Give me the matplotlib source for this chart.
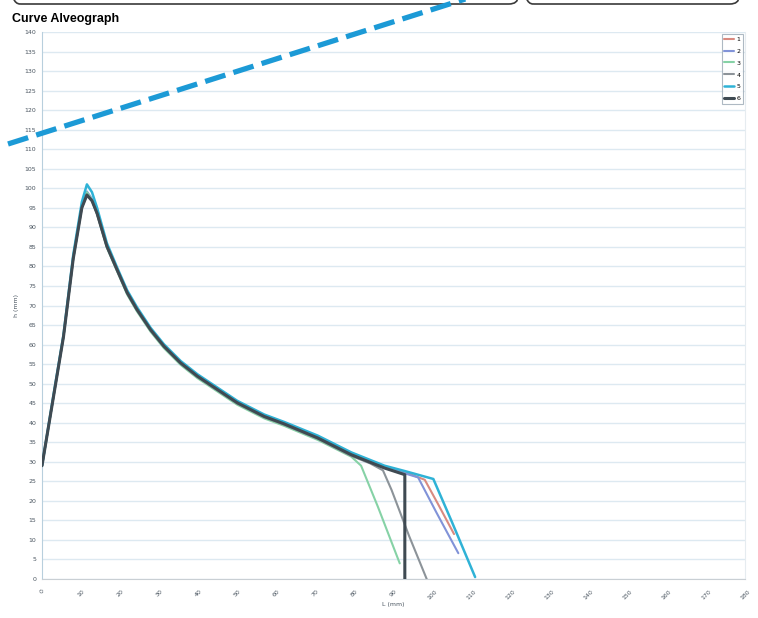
import matplotlib.pyplot as plt
from matplotlib.patches import FancyBboxPatch
from matplotlib.lines import Line2D

# alveograph curves, L (mm) vs h (mm)
x1 = [0, 3, 5.5, 8, 10.2, 11.5, 12.8, 14.1, 16.6, 19.2, 21.8, 24.3, 27.8, 31.2, 35.5, 39.8,
      44.9, 50, 56.9, 62, 70.6, 79.2, 87.7, 93, 98, 101.5, 105.5]
y1 = [29, 47, 62, 82, 95, 98.7, 97, 93.5, 85.3, 79.3, 73.5, 69.2, 64, 59.8, 55.6, 52.2,
      48.8, 45.4, 41.9, 40, 36.4, 32.1, 28.8, 27.3, 25.4, 19, 11.5]

x2 = [0, 3, 5.5, 8, 10.2, 11.5, 12.8, 14.1, 16.6, 19.2, 21.8, 24.3, 27.8, 31.2, 35.5, 39.8,
      44.9, 50, 56.9, 62, 70.6, 79.2, 87.7, 93, 96.3, 101, 106.6]
y2 = [29, 47, 62, 82, 95.3, 99.2, 97.3, 93.8, 85.2, 79.2, 73.3, 69, 63.8, 59.6, 55.3, 51.9,
      48.5, 45.1, 41.6, 39.7, 36.2, 31.9, 28.6, 27, 26, 17, 6.6]

x3 = [0, 3, 5.5, 8, 10.2, 11.5, 12.8, 14.1, 16.6, 19.2, 21.8, 24.3, 27.8, 31.2, 35.5, 39.8,
      44.9, 50, 56.9, 62, 70.6, 79.2, 81.7, 86, 91.6]
y3 = [29, 47, 62, 82, 95.3, 99, 97, 93.4, 84.8, 78.8, 72.8, 68.5, 63.3, 59.1, 54.8, 51.4,
      48, 44.6, 41.1, 39.2, 35.6, 31.3, 29, 18.5, 4]

x4 = [0, 3, 5.5, 8, 10.2, 11.5, 12.8, 14.1, 16.6, 19.2, 21.8, 24.3, 27.8, 31.2, 35.5, 39.8,
      44.9, 50, 56.9, 62, 70.6, 79.2, 84, 87.3, 89.5, 94, 98.5]
y4 = [29, 47, 62, 82, 95, 98.3, 96.8, 93.4, 85, 79, 73.1, 68.8, 63.6, 59.4, 55.1, 51.7,
      48.3, 44.9, 41.4, 39.5, 35.9, 31.5, 29.6, 27.8, 22.8, 11, 0]

x5 = [0, 3, 5.5, 8, 10.2, 11.5, 12.8, 14.1, 16.6, 19.2, 21.8, 24.3, 27.8, 31.2, 35.5, 39.8,
      44.9, 50, 56.9, 62, 70.6, 79.2, 87.7, 93, 100.2, 105, 110.9]
y5 = [29, 47.5, 62.5, 83, 96.5, 101, 99, 95, 86, 79.8, 73.9, 69.6, 64.3, 60.1, 55.8, 52.4,
      49, 45.6, 42.1, 40.2, 36.7, 32.4, 29, 27.6, 25.6, 14.5, 0.5]

x6 = [0, 3, 5.5, 8, 10.2, 11.5, 12.8, 14.1, 16.6, 19.2, 21.8, 24.3, 27.8, 31.2, 35.5, 39.8,
      44.9, 50, 56.9, 62, 70.6, 79.2, 87.7, 92.9, 92.9]
y6 = [29, 47, 62, 82, 95, 98.3, 96.8, 93.6, 85.2, 79.2, 73.3, 69, 63.8, 59.6, 55.3, 51.9,
      48.5, 45.1, 41.6, 39.7, 36.1, 31.8, 28.4, 26.7, 0]

labels = ['1', '2', '3', '4', '5', '6']
colors = ['#d98a80', '#8193d8', '#86d2a6', '#8c9399', '#2fb2d6', '#3f4a52']
xticks = list(range(0, 190, 10))
yticks = list(range(0, 145, 5))

fig = plt.figure(figsize=(7.58, 6.18), dpi=100)
ax = fig.add_axes([42/758, 1 - 579/618, 703/758, 547/618])

series = [(x1, y1), (x2, y2), (x3, y3), (x4, y4), (x5, y5), (x6, y6)]
widths = [1.5, 1.5, 1.5, 1.5, 1.8, 2.2]
for (xs, ys), c, lab, w in zip(series, colors, labels, widths):
    ax.plot(xs, ys, color=c, lw=w, label=lab, zorder=3,
            solid_joinstyle='round', solid_capstyle='round')

ax.set_xlim(0, 180)
ax.set_ylim(0, 140)
ax.set_xticks(xticks)
ax.set_yticks(yticks)
ax.set_xticklabels([str(t) for t in xticks], rotation=45, fontsize=4.5, color='#4a5560')
ax.set_yticklabels([str(t) for t in yticks], fontsize=4.5, color='#4a5560')
ax.tick_params(axis='y', length=0, pad=4)
ax.tick_params(axis='x', length=0, pad=7)
ax.grid(axis='y', color='#dde9f1', lw=1)
ax.set_axisbelow(True)
ax.spines['top'].set_visible(False)
ax.spines['left'].set_color('#b8cfdd')
ax.spines['bottom'].set_color('#c9cfd4')
ax.spines['right'].set_color('#e6ecf0')
ax.set_xlabel('L (mm)', fontsize=4.5, color='#4a5560', labelpad=1)
ax.set_ylabel('h (mm)', fontsize=4.5, color='#4a5560', labelpad=4)

leg = ax.legend(loc='upper right', fontsize=4.5, handlelength=1.5, labelspacing=1.05,
                handletextpad=0.5, borderaxespad=0.3, frameon=True, fancybox=False)
leg.get_frame().set_edgecolor('#9aa8b4')
leg.get_frame().set_linewidth(0.8)

# title and page decorations
fig.text(12/758, 1 - 19/618, 'Curve Alveograph', fontsize=9, fontweight='bold',
         family='Liberation Sans', va='center', ha='left')
for xa, xb in [(11, 518), (524, 739)]:
    box = FancyBboxPatch((xa/758, 1 - 4/618), (xb - xa)/758, 0.05,
                         boxstyle='round,pad=0,rounding_size=0.012',
                         transform=fig.transFigure, fill=False,
                         ec='#3a3a3a', lw=1.2)
    fig.patches.append(box)

fig.lines.append(Line2D([8/758, 470/758], [1 - 144/618, 1 + 2.5/618],
                        transform=fig.transFigure, color='#1c9ad6', lw=3.8,
                        dashes=(4, 1.6), zorder=10))

fig.savefig('out.png', dpi=100)
